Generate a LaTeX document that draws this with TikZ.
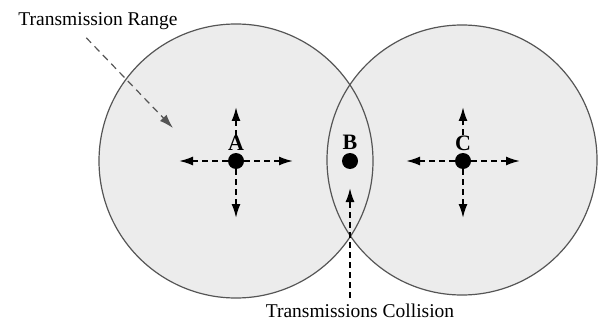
\documentclass[tikz,border=0pt]{standalone}
\usepackage{fontspec}
\setmainfont{Liberation Serif}
\usetikzlibrary{arrows.meta,calc,positioning}
\definecolor{rangegray}{RGB}{236,236,236}
\definecolor{edgegray}{RGB}{85,85,85}
\tikzset{
  station/.style={circle, fill=black, inner sep=0pt, minimum size=16pt},
  stalabel/.style={font=\fontsize{22}{24}\selectfont\bfseries, inner sep=0pt},
  signal/.style={->, line width=1.9pt, dash pattern=on 6pt off 4pt},
  pointer/.style={->, edgegray, line width=1.2pt, dash pattern=on 7pt off 5pt},
  caption/.style={font=\fontsize{19.5}{22}\selectfont, inner sep=0pt}
}
\begin{document}
\begin{tikzpicture}[x=1pt, y=-1pt, >={Latex[length=14pt,width=9pt]}]
  \useasboundingbox (0,0) rectangle (601,323);
  % transmission ranges: fill both, then outline both
  \fill[rangegray] (236,161) circle (137pt);
  \fill[rangegray] (462,160) circle (135pt);
  \draw[edgegray, line width=1.2pt] (236,161) circle (137pt);
  \draw[edgegray, line width=1.2pt] (462,160) circle (135pt);
  % stations
  \node[station] (A) at (236,161) {};
  \node[station] (B) at (350,161) {};
  \node[station] (C) at (463,161) {};
  \node[stalabel] (labA) at (236,143) {A};
  \node[stalabel] (labB) at (350,142) {B};
  \node[stalabel] (labC) at (463,143) {C};
  % signals sent by A and C
  \foreach \s in {A,C} {
    \coordinate (\s-w) at ($(\s)+(-57,0)$);
    \coordinate (\s-e) at ($(\s)+(57,0)$);
    \coordinate (\s-n) at ($(\s)+(0,-54)$);
    \coordinate (\s-s) at ($(\s)+(0,57)$);
    \draw[signal] (\s) -- (\s-w);
    \draw[signal] (\s) -- (\s-e);
    \draw[signal] (\s) -- (\s-s);
    \draw[signal] (lab\s) -- (\s-n);
  }
  % captions
  \node[caption] (range) at (98,21) {Transmission Range};
  \coordinate (range-tip) at (173,128);
  \draw[pointer] ([xshift=68pt,yshift=-8pt]range.south west) -- (range-tip);
  \node[caption] (collision) at (360,311) {Transmissions Collision};
  \coordinate (B-s) at ($(B)+(0,27)$);
  \draw[signal, shorten <=6pt] (collision.north -| B) -- (B-s);
\end{tikzpicture}
\end{document}
